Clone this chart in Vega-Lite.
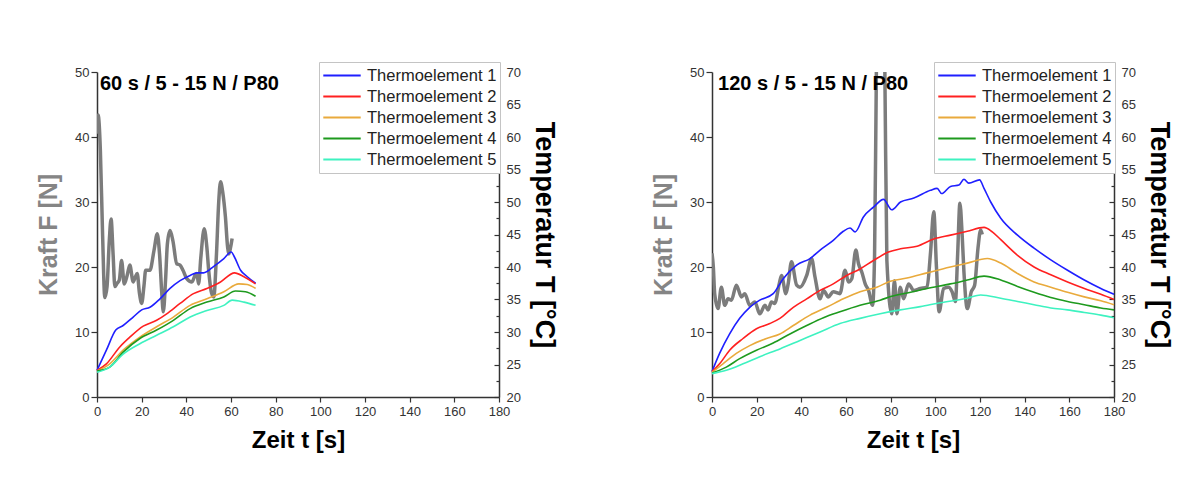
{
"$schema": "https://vega.github.io/schema/vega-lite/v6.json",
"datasets": {"d": [
{"p":"60","s":"Kraft","t":0,"v":40.5},{"p":"60","s":"Kraft","t":0.5,"v":43.4},{"p":"60","s":"Kraft","t":1.5,"v":38},{"p":"60","s":"Kraft","t":2.5,"v":25},{"p":"60","s":"Kraft","t":3.5,"v":15.3},{"p":"60","s":"Kraft","t":4.5,"v":17},{"p":"60","s":"Kraft","t":5.5,"v":24},{"p":"60","s":"Kraft","t":6.3,"v":27.4},{"p":"60","s":"Kraft","t":7.2,"v":22},{"p":"60","s":"Kraft","t":8,"v":17},{"p":"60","s":"Kraft","t":9,"v":17.5},{"p":"60","s":"Kraft","t":10,"v":18},{"p":"60","s":"Kraft","t":11,"v":21},{"p":"60","s":"Kraft","t":12.2,"v":17.4},{"p":"60","s":"Kraft","t":13.5,"v":18.7},{"p":"60","s":"Kraft","t":14.7,"v":20.3},{"p":"60","s":"Kraft","t":16.2,"v":17.7},{"p":"60","s":"Kraft","t":17.2,"v":18.5},{"p":"60","s":"Kraft","t":18,"v":19},{"p":"60","s":"Kraft","t":19,"v":16},{"p":"60","s":"Kraft","t":20,"v":14.4},{"p":"60","s":"Kraft","t":21,"v":17},{"p":"60","s":"Kraft","t":21.8,"v":19.5},{"p":"60","s":"Kraft","t":23.7,"v":19.5},{"p":"60","s":"Kraft","t":25.5,"v":22.5},{"p":"60","s":"Kraft","t":27,"v":25.1},{"p":"60","s":"Kraft","t":28,"v":22},{"p":"60","s":"Kraft","t":29,"v":16},{"p":"60","s":"Kraft","t":29.7,"v":13.1},{"p":"60","s":"Kraft","t":30.7,"v":18},{"p":"60","s":"Kraft","t":31.5,"v":23.5},{"p":"60","s":"Kraft","t":32.7,"v":25.6},{"p":"60","s":"Kraft","t":34,"v":24},{"p":"60","s":"Kraft","t":35.7,"v":20.5},{"p":"60","s":"Kraft","t":37.2,"v":20.3},{"p":"60","s":"Kraft","t":38.5,"v":19.5},{"p":"60","s":"Kraft","t":40.2,"v":18.2},{"p":"60","s":"Kraft","t":42.5,"v":17.7},{"p":"60","s":"Kraft","t":44,"v":18.8},{"p":"60","s":"Kraft","t":44.7,"v":19},{"p":"60","s":"Kraft","t":45.5,"v":17.4},{"p":"60","s":"Kraft","t":46.5,"v":21.5},{"p":"60","s":"Kraft","t":48,"v":25.9},{"p":"60","s":"Kraft","t":49.2,"v":23},{"p":"60","s":"Kraft","t":50,"v":19.5},{"p":"60","s":"Kraft","t":51.3,"v":16},{"p":"60","s":"Kraft","t":52.3,"v":15.4},{"p":"60","s":"Kraft","t":53.5,"v":22},{"p":"60","s":"Kraft","t":54.5,"v":30},{"p":"60","s":"Kraft","t":55.3,"v":33.1},{"p":"60","s":"Kraft","t":56.3,"v":31.5},{"p":"60","s":"Kraft","t":57.5,"v":27.7},{"p":"60","s":"Kraft","t":58.5,"v":23},{"p":"60","s":"Kraft","t":59,"v":22},{"p":"60","s":"Kraft","t":59.8,"v":23},{"p":"60","s":"Kraft","t":60.5,"v":24.4},
{"p":"60","s":"Thermoelement 1","t":0,"v":24.1},{"p":"60","s":"Thermoelement 1","t":4.2,"v":27.2},{"p":"60","s":"Thermoelement 1","t":8.4,"v":30.3},{"p":"60","s":"Thermoelement 1","t":11.7,"v":31.0},{"p":"60","s":"Thermoelement 1","t":16.2,"v":32.3},{"p":"60","s":"Thermoelement 1","t":20,"v":33.4},{"p":"60","s":"Thermoelement 1","t":23.7,"v":33.8},{"p":"60","s":"Thermoelement 1","t":28.2,"v":35.1},{"p":"60","s":"Thermoelement 1","t":32.7,"v":36.7},{"p":"60","s":"Thermoelement 1","t":37.2,"v":37.9},{"p":"60","s":"Thermoelement 1","t":41.7,"v":38.7},{"p":"60","s":"Thermoelement 1","t":44.7,"v":39.1},{"p":"60","s":"Thermoelement 1","t":47.7,"v":39.1},{"p":"60","s":"Thermoelement 1","t":52.3,"v":40.1},{"p":"60","s":"Thermoelement 1","t":56.8,"v":41.3},{"p":"60","s":"Thermoelement 1","t":60.1,"v":42.3},{"p":"60","s":"Thermoelement 1","t":61.6,"v":41.5},{"p":"60","s":"Thermoelement 1","t":64.3,"v":39.5},{"p":"60","s":"Thermoelement 1","t":67.3,"v":38.5},{"p":"60","s":"Thermoelement 1","t":71,"v":37.5},
{"p":"60","s":"Thermoelement 2","t":0,"v":24.1},{"p":"60","s":"Thermoelement 2","t":4.2,"v":25.1},{"p":"60","s":"Thermoelement 2","t":10.2,"v":27.7},{"p":"60","s":"Thermoelement 2","t":14.7,"v":29.2},{"p":"60","s":"Thermoelement 2","t":20.7,"v":30.9},{"p":"60","s":"Thermoelement 2","t":26.7,"v":31.8},{"p":"60","s":"Thermoelement 2","t":31.2,"v":32.8},{"p":"60","s":"Thermoelement 2","t":37.2,"v":34.4},{"p":"60","s":"Thermoelement 2","t":43.2,"v":35.9},{"p":"60","s":"Thermoelement 2","t":49.2,"v":36.7},{"p":"60","s":"Thermoelement 2","t":55.3,"v":37.7},{"p":"60","s":"Thermoelement 2","t":61.6,"v":39.1},{"p":"60","s":"Thermoelement 2","t":65.8,"v":38.5},{"p":"60","s":"Thermoelement 2","t":71,"v":37.4},
{"p":"60","s":"Thermoelement 3","t":0,"v":24.0},{"p":"60","s":"Thermoelement 3","t":5.7,"v":25.1},{"p":"60","s":"Thermoelement 3","t":11.7,"v":27.2},{"p":"60","s":"Thermoelement 3","t":19.2,"v":29.2},{"p":"60","s":"Thermoelement 3","t":26.7,"v":30.8},{"p":"60","s":"Thermoelement 3","t":34.2,"v":32.3},{"p":"60","s":"Thermoelement 3","t":41.7,"v":34.1},{"p":"60","s":"Thermoelement 3","t":49.2,"v":35.1},{"p":"60","s":"Thermoelement 3","t":56.8,"v":36.2},{"p":"60","s":"Thermoelement 3","t":63.5,"v":37.4},{"p":"60","s":"Thermoelement 3","t":67.3,"v":37.3},{"p":"60","s":"Thermoelement 3","t":71,"v":36.7},
{"p":"60","s":"Thermoelement 4","t":0,"v":24.0},{"p":"60","s":"Thermoelement 4","t":5.7,"v":24.6},{"p":"60","s":"Thermoelement 4","t":11.7,"v":26.9},{"p":"60","s":"Thermoelement 4","t":19.2,"v":29.0},{"p":"60","s":"Thermoelement 4","t":26.7,"v":30.3},{"p":"60","s":"Thermoelement 4","t":34.2,"v":31.8},{"p":"60","s":"Thermoelement 4","t":41.7,"v":33.6},{"p":"60","s":"Thermoelement 4","t":49.2,"v":34.6},{"p":"60","s":"Thermoelement 4","t":56.8,"v":35.4},{"p":"60","s":"Thermoelement 4","t":62,"v":36.3},{"p":"60","s":"Thermoelement 4","t":66.5,"v":36.2},{"p":"60","s":"Thermoelement 4","t":71,"v":35.5},
{"p":"60","s":"Thermoelement 5","t":0,"v":23.8},{"p":"60","s":"Thermoelement 5","t":5.7,"v":24.6},{"p":"60","s":"Thermoelement 5","t":11.7,"v":26.6},{"p":"60","s":"Thermoelement 5","t":19.2,"v":28.2},{"p":"60","s":"Thermoelement 5","t":26.7,"v":29.5},{"p":"60","s":"Thermoelement 5","t":34.2,"v":30.8},{"p":"60","s":"Thermoelement 5","t":41.7,"v":32.3},{"p":"60","s":"Thermoelement 5","t":49.2,"v":33.3},{"p":"60","s":"Thermoelement 5","t":56.8,"v":34.1},{"p":"60","s":"Thermoelement 5","t":60.5,"v":34.9},{"p":"60","s":"Thermoelement 5","t":65.8,"v":34.6},{"p":"60","s":"Thermoelement 5","t":71,"v":34.1},
{"p":"120","s":"Kraft","t":0,"v":22.1},{"p":"120","s":"Kraft","t":0.6,"v":20},{"p":"120","s":"Kraft","t":1.2,"v":15.9},{"p":"120","s":"Kraft","t":2.7,"v":13.6},{"p":"120","s":"Kraft","t":4.2,"v":16.9},{"p":"120","s":"Kraft","t":5.7,"v":14.1},{"p":"120","s":"Kraft","t":7.2,"v":15.1},{"p":"120","s":"Kraft","t":8.7,"v":14.9},{"p":"120","s":"Kraft","t":10.9,"v":17.2},{"p":"120","s":"Kraft","t":13.2,"v":15.4},{"p":"120","s":"Kraft","t":14.7,"v":15.9},{"p":"120","s":"Kraft","t":16.9,"v":14.1},{"p":"120","s":"Kraft","t":19.2,"v":14.6},{"p":"120","s":"Kraft","t":21.4,"v":12.8},{"p":"120","s":"Kraft","t":23.7,"v":14.1},{"p":"120","s":"Kraft","t":25.1,"v":13.4},{"p":"120","s":"Kraft","t":26.6,"v":14.6},{"p":"120","s":"Kraft","t":28.1,"v":14.4},{"p":"120","s":"Kraft","t":30.1,"v":17.4},{"p":"120","s":"Kraft","t":31.1,"v":18.7},{"p":"120","s":"Kraft","t":33.1,"v":15.9},{"p":"120","s":"Kraft","t":34.1,"v":17.4},{"p":"120","s":"Kraft","t":35.6,"v":20.8},{"p":"120","s":"Kraft","t":37.9,"v":17.2},{"p":"120","s":"Kraft","t":39.4,"v":16.9},{"p":"120","s":"Kraft","t":42.4,"v":18.7},{"p":"120","s":"Kraft","t":44.6,"v":21.3},{"p":"120","s":"Kraft","t":46.1,"v":18.5},{"p":"120","s":"Kraft","t":48.4,"v":15.1},{"p":"120","s":"Kraft","t":49.9,"v":16.4},{"p":"120","s":"Kraft","t":52.1,"v":15.4},{"p":"120","s":"Kraft","t":54.3,"v":16.2},{"p":"120","s":"Kraft","t":57.3,"v":15.9},{"p":"120","s":"Kraft","t":59.6,"v":19.5},{"p":"120","s":"Kraft","t":61.1,"v":17.7},{"p":"120","s":"Kraft","t":62.6,"v":18.2},{"p":"120","s":"Kraft","t":64.4,"v":22.6},{"p":"120","s":"Kraft","t":65.6,"v":20.5},{"p":"120","s":"Kraft","t":67.1,"v":19.2},{"p":"120","s":"Kraft","t":68.6,"v":17.4},{"p":"120","s":"Kraft","t":70.1,"v":16.4},{"p":"120","s":"Kraft","t":71.9,"v":14.1},{"p":"120","s":"Kraft","t":72.8,"v":22},{"p":"120","s":"Kraft","t":73.6,"v":50},{"p":"120","s":"Kraft","t":74.5,"v":68},{"p":"120","s":"Kraft","t":76.5,"v":68},{"p":"120","s":"Kraft","t":77.4,"v":50},{"p":"120","s":"Kraft","t":78.3,"v":21},{"p":"120","s":"Kraft","t":80.5,"v":12.8},{"p":"120","s":"Kraft","t":81.7,"v":17.9},{"p":"120","s":"Kraft","t":82.8,"v":12.8},{"p":"120","s":"Kraft","t":84.3,"v":16.9},{"p":"120","s":"Kraft","t":85.8,"v":15.1},{"p":"120","s":"Kraft","t":88,"v":17.4},{"p":"120","s":"Kraft","t":90.3,"v":16.4},{"p":"120","s":"Kraft","t":93.3,"v":16.7},{"p":"120","s":"Kraft","t":96.3,"v":16.9},{"p":"120","s":"Kraft","t":97.8,"v":22},{"p":"120","s":"Kraft","t":99.3,"v":28.5},{"p":"120","s":"Kraft","t":100.5,"v":20},{"p":"120","s":"Kraft","t":101.7,"v":13.1},{"p":"120","s":"Kraft","t":103.7,"v":16.7},{"p":"120","s":"Kraft","t":106,"v":16.9},{"p":"120","s":"Kraft","t":107.5,"v":16.2},{"p":"120","s":"Kraft","t":109,"v":14.7},{"p":"120","s":"Kraft","t":110,"v":22},{"p":"120","s":"Kraft","t":111,"v":29.8},{"p":"120","s":"Kraft","t":112,"v":25},{"p":"120","s":"Kraft","t":112.8,"v":19.3},{"p":"120","s":"Kraft","t":114.3,"v":13.6},{"p":"120","s":"Kraft","t":116.1,"v":16.2},{"p":"120","s":"Kraft","t":117.6,"v":17.2},{"p":"120","s":"Kraft","t":119.1,"v":22.9},{"p":"120","s":"Kraft","t":120.3,"v":25.7},{"p":"120","s":"Kraft","t":121,"v":25},
{"p":"120","s":"Thermoelement 1","t":0,"v":23.9},{"p":"120","s":"Thermoelement 1","t":3.4,"v":26.7},{"p":"120","s":"Thermoelement 1","t":7.9,"v":29.7},{"p":"120","s":"Thermoelement 1","t":12.4,"v":32.1},{"p":"120","s":"Thermoelement 1","t":16.9,"v":33.8},{"p":"120","s":"Thermoelement 1","t":21.4,"v":34.9},{"p":"120","s":"Thermoelement 1","t":27.4,"v":35.9},{"p":"120","s":"Thermoelement 1","t":31.9,"v":38.2},{"p":"120","s":"Thermoelement 1","t":37.9,"v":40.3},{"p":"120","s":"Thermoelement 1","t":43.9,"v":41.3},{"p":"120","s":"Thermoelement 1","t":48.4,"v":42.6},{"p":"120","s":"Thermoelement 1","t":54.3,"v":44.1},{"p":"120","s":"Thermoelement 1","t":58.8,"v":45.5},{"p":"120","s":"Thermoelement 1","t":61.8,"v":46},{"p":"120","s":"Thermoelement 1","t":64.1,"v":45.4},{"p":"120","s":"Thermoelement 1","t":67.8,"v":47.7},{"p":"120","s":"Thermoelement 1","t":72.3,"v":49.2},{"p":"120","s":"Thermoelement 1","t":76.8,"v":50.4},{"p":"120","s":"Thermoelement 1","t":80.5,"v":48.8},{"p":"120","s":"Thermoelement 1","t":84.4,"v":50.0},{"p":"120","s":"Thermoelement 1","t":90.4,"v":50.6},{"p":"120","s":"Thermoelement 1","t":97.8,"v":51.8},{"p":"120","s":"Thermoelement 1","t":100.8,"v":52.1},{"p":"120","s":"Thermoelement 1","t":102.8,"v":51.3},{"p":"120","s":"Thermoelement 1","t":106.8,"v":52.4},{"p":"120","s":"Thermoelement 1","t":110.6,"v":52.6},{"p":"120","s":"Thermoelement 1","t":112.8,"v":53.5},{"p":"120","s":"Thermoelement 1","t":115,"v":52.9},{"p":"120","s":"Thermoelement 1","t":119.8,"v":53.4},{"p":"120","s":"Thermoelement 1","t":121.8,"v":52.1},{"p":"120","s":"Thermoelement 1","t":124.8,"v":50.0},{"p":"120","s":"Thermoelement 1","t":129.3,"v":47.5},{"p":"120","s":"Thermoelement 1","t":136.8,"v":44.9},{"p":"120","s":"Thermoelement 1","t":144.2,"v":42.9},{"p":"120","s":"Thermoelement 1","t":151.7,"v":41.1},{"p":"120","s":"Thermoelement 1","t":159.2,"v":39.5},{"p":"120","s":"Thermoelement 1","t":166.7,"v":38.0},{"p":"120","s":"Thermoelement 1","t":174.1,"v":36.7},{"p":"120","s":"Thermoelement 1","t":180,"v":35.8},
{"p":"120","s":"Thermoelement 2","t":0,"v":23.9},{"p":"120","s":"Thermoelement 2","t":3.4,"v":25.1},{"p":"120","s":"Thermoelement 2","t":7.9,"v":27.2},{"p":"120","s":"Thermoelement 2","t":13.9,"v":29.0},{"p":"120","s":"Thermoelement 2","t":19.9,"v":30.5},{"p":"120","s":"Thermoelement 2","t":25.9,"v":31.3},{"p":"120","s":"Thermoelement 2","t":30.4,"v":32.1},{"p":"120","s":"Thermoelement 2","t":36.4,"v":33.8},{"p":"120","s":"Thermoelement 2","t":42.4,"v":35.1},{"p":"120","s":"Thermoelement 2","t":48.4,"v":36.4},{"p":"120","s":"Thermoelement 2","t":54.3,"v":37.4},{"p":"120","s":"Thermoelement 2","t":60.3,"v":38.7},{"p":"120","s":"Thermoelement 2","t":66.3,"v":39.7},{"p":"120","s":"Thermoelement 2","t":72.3,"v":41.0},{"p":"120","s":"Thermoelement 2","t":79,"v":42.3},{"p":"120","s":"Thermoelement 2","t":84.4,"v":42.8},{"p":"120","s":"Thermoelement 2","t":91.8,"v":43.2},{"p":"120","s":"Thermoelement 2","t":99.3,"v":44.3},{"p":"120","s":"Thermoelement 2","t":106.8,"v":44.9},{"p":"120","s":"Thermoelement 2","t":114.3,"v":45.5},{"p":"120","s":"Thermoelement 2","t":121.8,"v":46.1},{"p":"120","s":"Thermoelement 2","t":125.5,"v":45.4},{"p":"120","s":"Thermoelement 2","t":129.3,"v":44.2},{"p":"120","s":"Thermoelement 2","t":136.8,"v":41.8},{"p":"120","s":"Thermoelement 2","t":144.2,"v":40.0},{"p":"120","s":"Thermoelement 2","t":151.7,"v":38.8},{"p":"120","s":"Thermoelement 2","t":159.2,"v":37.7},{"p":"120","s":"Thermoelement 2","t":166.7,"v":36.7},{"p":"120","s":"Thermoelement 2","t":174.1,"v":35.8},{"p":"120","s":"Thermoelement 2","t":180,"v":35.0},
{"p":"120","s":"Thermoelement 3","t":0,"v":23.8},{"p":"120","s":"Thermoelement 3","t":4.9,"v":25.1},{"p":"120","s":"Thermoelement 3","t":10.9,"v":26.7},{"p":"120","s":"Thermoelement 3","t":16.9,"v":27.9},{"p":"120","s":"Thermoelement 3","t":24.4,"v":29.0},{"p":"120","s":"Thermoelement 3","t":30.4,"v":29.7},{"p":"120","s":"Thermoelement 3","t":36.4,"v":31.0},{"p":"120","s":"Thermoelement 3","t":43.9,"v":32.6},{"p":"120","s":"Thermoelement 3","t":51.3,"v":33.8},{"p":"120","s":"Thermoelement 3","t":58.8,"v":35.1},{"p":"120","s":"Thermoelement 3","t":66.3,"v":36.2},{"p":"120","s":"Thermoelement 3","t":73.8,"v":36.9},{"p":"120","s":"Thermoelement 3","t":79.8,"v":37.8},{"p":"120","s":"Thermoelement 3","t":87.3,"v":38.3},{"p":"120","s":"Thermoelement 3","t":96.3,"v":39.1},{"p":"120","s":"Thermoelement 3","t":106.7,"v":40.0},{"p":"120","s":"Thermoelement 3","t":114.3,"v":40.6},{"p":"120","s":"Thermoelement 3","t":123.3,"v":41.3},{"p":"120","s":"Thermoelement 3","t":129.3,"v":40.6},{"p":"120","s":"Thermoelement 3","t":136.8,"v":39.0},{"p":"120","s":"Thermoelement 3","t":144.2,"v":37.7},{"p":"120","s":"Thermoelement 3","t":151.7,"v":36.9},{"p":"120","s":"Thermoelement 3","t":159.2,"v":36.1},{"p":"120","s":"Thermoelement 3","t":166.7,"v":35.4},{"p":"120","s":"Thermoelement 3","t":174.1,"v":34.8},{"p":"120","s":"Thermoelement 3","t":180,"v":34.2},
{"p":"120","s":"Thermoelement 4","t":0,"v":23.7},{"p":"120","s":"Thermoelement 4","t":6.4,"v":24.6},{"p":"120","s":"Thermoelement 4","t":12.4,"v":25.9},{"p":"120","s":"Thermoelement 4","t":19.9,"v":27.2},{"p":"120","s":"Thermoelement 4","t":27.4,"v":28.3},{"p":"120","s":"Thermoelement 4","t":34.9,"v":29.7},{"p":"120","s":"Thermoelement 4","t":42.4,"v":31.0},{"p":"120","s":"Thermoelement 4","t":49.9,"v":32.2},{"p":"120","s":"Thermoelement 4","t":57.3,"v":33.1},{"p":"120","s":"Thermoelement 4","t":66.3,"v":34.1},{"p":"120","s":"Thermoelement 4","t":75.3,"v":34.9},{"p":"120","s":"Thermoelement 4","t":80.5,"v":35.5},{"p":"120","s":"Thermoelement 4","t":87.3,"v":36.0},{"p":"120","s":"Thermoelement 4","t":96.3,"v":36.7},{"p":"120","s":"Thermoelement 4","t":106.7,"v":37.4},{"p":"120","s":"Thermoelement 4","t":114.3,"v":38.0},{"p":"120","s":"Thermoelement 4","t":121.8,"v":38.6},{"p":"120","s":"Thermoelement 4","t":129.3,"v":38.0},{"p":"120","s":"Thermoelement 4","t":136.8,"v":37.0},{"p":"120","s":"Thermoelement 4","t":144.2,"v":36.1},{"p":"120","s":"Thermoelement 4","t":151.7,"v":35.3},{"p":"120","s":"Thermoelement 4","t":159.2,"v":34.7},{"p":"120","s":"Thermoelement 4","t":166.7,"v":34.2},{"p":"120","s":"Thermoelement 4","t":174.1,"v":33.7},{"p":"120","s":"Thermoelement 4","t":180,"v":33.4},
{"p":"120","s":"Thermoelement 5","t":0,"v":23.6},{"p":"120","s":"Thermoelement 5","t":6.4,"v":24.1},{"p":"120","s":"Thermoelement 5","t":13.9,"v":25.1},{"p":"120","s":"Thermoelement 5","t":21.4,"v":26.2},{"p":"120","s":"Thermoelement 5","t":30.4,"v":27.4},{"p":"120","s":"Thermoelement 5","t":39.4,"v":28.7},{"p":"120","s":"Thermoelement 5","t":48.4,"v":30.0},{"p":"120","s":"Thermoelement 5","t":57.3,"v":31.3},{"p":"120","s":"Thermoelement 5","t":66.3,"v":32.1},{"p":"120","s":"Thermoelement 5","t":75.3,"v":32.8},{"p":"120","s":"Thermoelement 5","t":84.3,"v":33.4},{"p":"120","s":"Thermoelement 5","t":93.3,"v":33.9},{"p":"120","s":"Thermoelement 5","t":102.2,"v":34.5},{"p":"120","s":"Thermoelement 5","t":114.3,"v":35.2},{"p":"120","s":"Thermoelement 5","t":120.3,"v":35.7},{"p":"120","s":"Thermoelement 5","t":129.3,"v":35.2},{"p":"120","s":"Thermoelement 5","t":136.8,"v":34.7},{"p":"120","s":"Thermoelement 5","t":144.2,"v":34.2},{"p":"120","s":"Thermoelement 5","t":151.7,"v":33.7},{"p":"120","s":"Thermoelement 5","t":159.2,"v":33.4},{"p":"120","s":"Thermoelement 5","t":166.7,"v":33.0},{"p":"120","s":"Thermoelement 5","t":174.1,"v":32.6},{"p":"120","s":"Thermoelement 5","t":180,"v":32.2}
]},
"data": {"name": "d"},
"padding": {"left": 36, "top": 61, "right": 5, "bottom": 5},
"spacing": 213,
"bounds": "flush",
"hconcat": [
{
 "width": 402, "height": 325,
 "layer": [
  {"layer": [
   {"transform": [{"filter": "datum.p=='60' && datum.s=='Kraft'"}],
    "mark": {"type": "line", "color": "#7c7c7c", "strokeWidth": 3.5, "interpolate": "monotone", "clip": true},
    "encoding": {
     "x": {"field": "t", "type": "quantitative", "title": "Zeit t [s]", "scale": {"domain": [0, 180], "nice": false},
       "axis": {"values": [0,10,20,30,40,50,60,70,80,90,100,110,120,130,140,150,160,170,180], "labelExpr": "datum.value % 20 == 0 ? datum.label : ''", "tickSize": {"condition": {"test": "datum.value % 20 != 0", "value": 3}, "value": 5}, "labelFlush": false, "labelOverlap": false, "labelPadding": 3, "titlePadding": 10, "titleFontSize": 24, "titleColor": "#000"}},
     "y": {"field": "v", "type": "quantitative", "title": "Kraft F [N]", "scale": {"domain": [0, 50], "nice": false},
       "axis": {"values": [0,5,10,15,20,25,30,35,40,45,50], "labelExpr": "datum.value % 10 == 0 ? datum.label : ''", "tickSize": {"condition": {"test": "datum.value % 10 != 0", "value": 3}, "value": 6}, "labelOverlap": false, "labelFlush": false, "labelPadding": 2, "titlePadding": 13, "titleFontSize": 25, "titleColor": "#858585"}}
    }},
   {"data": {"values": [{"label": "60 s / 5 - 15 N / P80"}]},
    "mark": {"type": "text", "align": "left", "baseline": "alphabetic", "fontSize": 20, "fontWeight": "bold", "font": "Liberation Sans", "color": "#000"},
    "encoding": {
     "x": {"datum": 1.3, "type": "quantitative", "title": "Zeit t [s]"},
     "y": {"datum": 47.2, "type": "quantitative", "title": "Kraft F [N]"},
     "text": {"field": "label"}
    }}
  ]},
  {"transform": [{"filter": "datum.p=='60' && datum.s!='Kraft'"}],
   "mark": {"type": "line", "strokeWidth": 1.6, "interpolate": "monotone"},
   "encoding": {
    "x": {"field": "t", "type": "quantitative", "title": "Zeit t [s]"},
    "y": {"field": "v", "type": "quantitative", "title": "Temperatur T [°C]", "scale": {"domain": [20, 70], "nice": false},
      "axis": {"orient": "right", "values": [20,22.5,25,27.5,30,32.5,35,37.5,40,42.5,45,47.5,50,52.5,55,57.5,60,62.5,65,67.5,70], "labelExpr": "datum.value % 5 == 0 ? datum.label : ''", "tickSize": {"condition": {"test": "datum.value % 5 != 0", "value": -3}, "value": -5}, "labelOverlap": false, "labelFlush": false, "labelPadding": 12, "titlePadding": 9, "titleFontSize": 27, "titleColor": "#000"}},
    "color": {"field": "s", "type": "nominal",
      "scale": {"domain": ["Thermoelement 1","Thermoelement 2","Thermoelement 3","Thermoelement 4","Thermoelement 5"], "range": ["#1f1fff","#ff2020","#e9aa3c","#1e9a1e","#3ef2c0"]},
      "legend": {"title": null, "orient": "none", "legendX": 222, "legendY": -10, "symbolType": "stroke", "symbolSize": 1400, "symbolStrokeWidth": 2, "clipHeight": 21, "labelFontSize": 16.5, "labelFont": "Liberation Sans", "labelColor": "#222", "strokeColor": "#c4c4c4", "fillColor": "white", "padding": 3, "rowPadding": 0, "labelOffset": 5}}
   }}
 ],
 "resolve": {"scale": {"y": "independent"}}
},
{
 "width": 402, "height": 325,
 "layer": [
  {"layer": [
   {"transform": [{"filter": "datum.p=='120' && datum.s=='Kraft'"}],
    "mark": {"type": "line", "color": "#7c7c7c", "strokeWidth": 3.5, "interpolate": "monotone", "clip": true},
    "encoding": {
     "x": {"field": "t", "type": "quantitative", "title": "Zeit t [s]", "scale": {"domain": [0, 180], "nice": false},
       "axis": {"values": [0,10,20,30,40,50,60,70,80,90,100,110,120,130,140,150,160,170,180], "labelExpr": "datum.value % 20 == 0 ? datum.label : ''", "tickSize": {"condition": {"test": "datum.value % 20 != 0", "value": 3}, "value": 5}, "labelFlush": false, "labelOverlap": false, "labelPadding": 3, "titlePadding": 10, "titleFontSize": 24, "titleColor": "#000"}},
     "y": {"field": "v", "type": "quantitative", "title": "Kraft F [N]", "scale": {"domain": [0, 50], "nice": false},
       "axis": {"values": [0,5,10,15,20,25,30,35,40,45,50], "labelExpr": "datum.value % 10 == 0 ? datum.label : ''", "tickSize": {"condition": {"test": "datum.value % 10 != 0", "value": 3}, "value": 6}, "labelOverlap": false, "labelFlush": false, "labelPadding": 2, "titlePadding": 13, "titleFontSize": 25, "titleColor": "#858585"}}
    }},
   {"data": {"values": [{"label": "120 s / 5 - 15 N / P80"}]},
    "mark": {"type": "text", "align": "left", "baseline": "alphabetic", "fontSize": 20, "fontWeight": "bold", "font": "Liberation Sans", "color": "#000"},
    "encoding": {
     "x": {"datum": 2.7, "type": "quantitative", "title": "Zeit t [s]"},
     "y": {"datum": 47.2, "type": "quantitative", "title": "Kraft F [N]"},
     "text": {"field": "label"}
    }}
  ]},
  {"transform": [{"filter": "datum.p=='120' && datum.s!='Kraft'"}],
   "mark": {"type": "line", "strokeWidth": 1.6, "interpolate": "monotone"},
   "encoding": {
    "x": {"field": "t", "type": "quantitative", "title": "Zeit t [s]"},
    "y": {"field": "v", "type": "quantitative", "title": "Temperatur T [°C]", "scale": {"domain": [20, 70], "nice": false},
      "axis": {"orient": "right", "values": [20,22.5,25,27.5,30,32.5,35,37.5,40,42.5,45,47.5,50,52.5,55,57.5,60,62.5,65,67.5,70], "labelExpr": "datum.value % 5 == 0 ? datum.label : ''", "tickSize": {"condition": {"test": "datum.value % 5 != 0", "value": -3}, "value": -5}, "labelOverlap": false, "labelFlush": false, "labelPadding": 12, "titlePadding": 9, "titleFontSize": 27, "titleColor": "#000"}},
    "color": {"field": "s", "type": "nominal",
      "scale": {"domain": ["Thermoelement 1","Thermoelement 2","Thermoelement 3","Thermoelement 4","Thermoelement 5"], "range": ["#1f1fff","#ff2020","#e9aa3c","#1e9a1e","#3ef2c0"]},
      "legend": {"title": null, "orient": "none", "legendX": 222, "legendY": -10, "symbolType": "stroke", "symbolSize": 1400, "symbolStrokeWidth": 2, "clipHeight": 21, "labelFontSize": 16.5, "labelFont": "Liberation Sans", "labelColor": "#222", "strokeColor": "#c4c4c4", "fillColor": "white", "padding": 3, "rowPadding": 0, "labelOffset": 5}}
   }}
 ],
 "resolve": {"scale": {"y": "independent"}}
}
],
"resolve": {"scale": {"color": "independent"}, "legend": {"color": "independent"}},
"config": {
 "font": "Liberation Sans",
 "view": {"stroke": null},
 "axis": {"labelFont": "Liberation Sans", "labelFontSize": 13, "labelColor": "#333", "domainColor": "#333", "domainWidth": 1.5, "tickColor": "#333", "tickWidth": 1.2, "grid": false, "titleFont": "Liberation Sans", "titleFontWeight": "bold"}
}
}
